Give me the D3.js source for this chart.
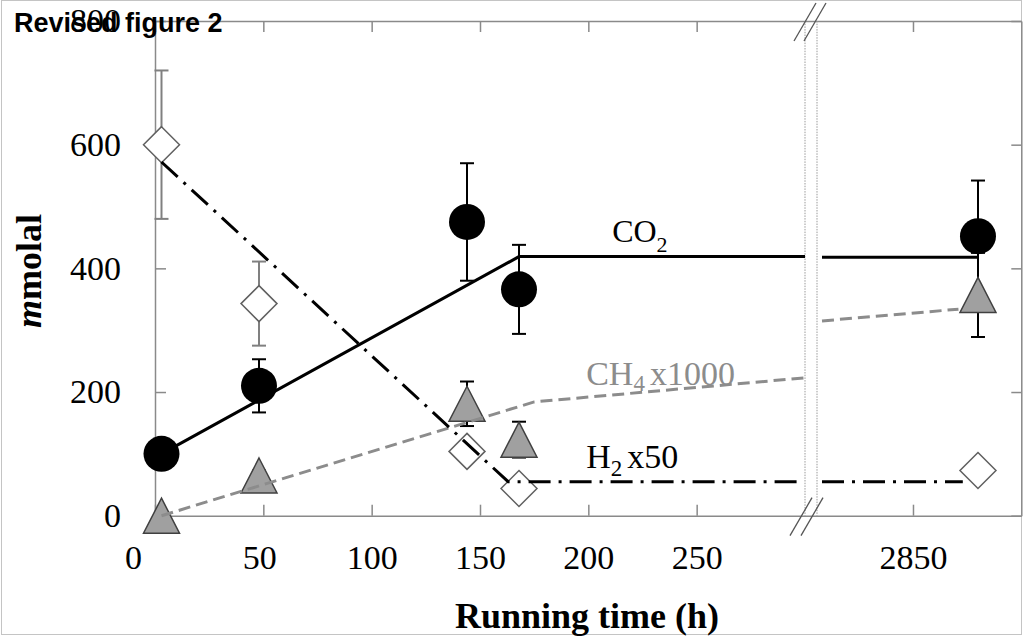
<!DOCTYPE html>
<meta charset="utf-8">
<style>
    body { margin: 0; background: #fff; }
    svg text { font-family: "Liberation Serif", "Times New Roman", serif; }
</style>

<!-- Load d3.js -->
<script src="https://d3js.org/d3.v7.min.js"></script>

<div id="my_dataviz"></div>

<script>
    // values (time in h, concentrations in mmolal)
    var times  = [3, 48, 144, 168, 2880];
    var co2    = [100, 210, 475, 366, 452];
    var co2Err = [12, 43, 95, 72, 90];
    var ch4    = [0, 65, 181, 123, 357];     // CH4 x1000
    var ch4Err = [6, 8, 36, 29, 68];
    var h2     = [600, 343, 104, 44, 73];    // H2 x50
    var h2Err  = [120, 68, 6, 6, 6];

    // trend lines, split in two pieces at the axis break
    var co2Fit = [[[3, 100], [168, 419], [300, 419]], [[2808, 418], [2880, 418]]];
    var ch4Fit = [[[3, 0], [175, 184], [300, 223]], [[2808, 315], [2871, 334]]];
    var h2Fit  = [[[3, 572], [163, 55], [297, 55]], [[2808, 55], [2873, 55]]];

    var xTicks = [0, 50, 100, 150, 200, 250, 2850];
    var yTicks = [0, 200, 400, 600, 800];

    var W = 1023, H = 636;
    var axisGrey = "#8a8a8a";

    var svg = d3.select("#my_dataviz")
        .append("svg")
        .attr("width", W)
        .attr("height", H);

    // outer frame
    svg.append("rect")
        .attr("x", 1.5).attr("y", 0.5)
        .attr("width", 1020).attr("height", 634)
        .attr("fill", "none")
        .attr("stroke", "#c4c4c4");

    // broken x axis: 0-300 h, then 2808-2900 h
    var x = d3.scaleLinear()
        .domain([0, 300, 2808, 2900])
        .range([155, 805, 822, 1021.3]);
    var y = d3.scaleLinear()
        .domain([0, 800])
        .range([515.7, 21]);

    function styleAxis(g) {
        g.attr("font-family", "Liberation Serif, Times New Roman, serif")
            .attr("font-size", 34);
        g.selectAll("path, line").attr("stroke", axisGrey).attr("stroke-width", 1.5);
        g.selectAll("text").attr("fill", "#000");
    }

    svg.append("g")
        .attr("transform", "translate(0," + y(0) + ")")
        .call(d3.axisBottom(x).tickValues(xTicks).tickFormat(d3.format("d"))
            .tickSizeInner(-11).tickSizeOuter(0).tickPadding(29))
        .call(styleAxis)
        .selectAll("text")
        .attr("dx", function(d) { return d === 0 ? -22 : (d === 50 ? -4 : 0); });

    svg.append("g")
        .attr("transform", "translate(0," + y(800) + ")")
        .call(d3.axisTop(x).tickValues(xTicks).tickSizeInner(-11).tickSizeOuter(0).tickFormat(""))
        .call(styleAxis);

    svg.append("g")
        .attr("transform", "translate(" + x(0) + ",0)")
        .call(d3.axisLeft(y).tickValues(yTicks).tickSizeInner(-11).tickSizeOuter(0).tickPadding(34))
        .call(styleAxis);

    svg.append("g")
        .attr("transform", "translate(" + x(2900) + ",0)")
        .call(d3.axisRight(y).tickValues(yTicks).tickSizeInner(-10).tickSizeOuter(0).tickFormat(""))
        .call(styleAxis);

    // break marks
    var bx1 = x(300), bx2 = x(2808) - 5;
    [bx1, bx2].forEach(function(bx) {
        svg.append("line")
            .attr("x1", bx).attr("x2", bx)
            .attr("y1", y(800)).attr("y2", y(0))
            .attr("stroke", "#9a9a9a")
            .attr("stroke-width", 1)
            .attr("stroke-dasharray", "1.5,1.2");
    });
    [[y(0), -12], [y(0), -1], [y(800), -8], [y(800), 2]].forEach(function(s) {
        var cx = bx1 + 8 + s[1];
        svg.append("line")
            .attr("x1", cx - 11).attr("y1", s[0] + 20)
            .attr("x2", cx + 11).attr("y2", s[0] - 18)
            .attr("stroke", "#555")
            .attr("stroke-width", 1.3);
    });

    var rows = times.map(function(t, i) {
        return { t: t, co2: co2[i], co2e: co2Err[i], ch4: ch4[i], ch4e: ch4Err[i], h2: h2[i], h2e: h2Err[i] };
    });

    // error bars
    function errorBars(key, ekey, colour) {
        var g = svg.append("g").attr("stroke", colour).attr("stroke-width", 2);
        rows.forEach(function(d) {
            var cx = x(d.t), lo = y(d[key] - d[ekey]), hi = y(d[key] + d[ekey]);
            g.append("line").attr("x1", cx).attr("x2", cx).attr("y1", lo).attr("y2", hi);
            g.append("line").attr("x1", cx - 7).attr("x2", cx + 7).attr("y1", lo).attr("y2", lo);
            g.append("line").attr("x1", cx - 7).attr("x2", cx + 7).attr("y1", hi).attr("y2", hi);
        });
    }
    errorBars("h2", "h2e", "#808080");
    errorBars("co2", "co2e", "#000");
    errorBars("ch4", "ch4e", "#000");

    // markers
    svg.selectAll("circle.co2")
        .data(rows)
        .enter()
        .append("circle")
        .attr("cx", function(d) { return x(d.t); })
        .attr("cy", function(d) { return y(d.co2); })
        .attr("r", 18)
        .attr("fill", "#000");

    svg.selectAll("path.ch4")
        .data(rows)
        .enter()
        .append("path")
        .attr("d", "M0,-17.5L18,17.5L-18,17.5Z")
        .attr("transform", function(d) { return "translate(" + x(d.t) + "," + y(d.ch4) + ")"; })
        .attr("fill", "#a0a0a0")
        .attr("stroke", "#404040")
        .attr("stroke-width", 1.5);

    svg.selectAll("path.h2")
        .data(rows)
        .enter()
        .append("path")
        .attr("d", "M0,-18L18,0L0,18L-18,0Z")
        .attr("transform", function(d) { return "translate(" + x(d.t) + "," + y(d.h2) + ")"; })
        .attr("fill", "#fff")
        .attr("stroke", "#606060")
        .attr("stroke-width", 1.5);

    // trend lines on top of the markers
    var line = d3.line()
        .x(function(d) { return x(d[0]); })
        .y(function(d) { return y(d[1]); });

    function fit(pieces, colour, dash) {
        pieces.forEach(function(p) {
            svg.append("path")
                .attr("d", line(p))
                .attr("fill", "none")
                .attr("stroke", colour)
                .attr("stroke-width", 3)
                .attr("stroke-dasharray", dash);
        });
    }
    fit(co2Fit, "#000", null);
    fit(ch4Fit, "#8c8c8c", "12,6");
    fit(h2Fit, "#000", "22,8,3,8");

    // series labels
    var lab1 = svg.append("text")
        .attr("x", x(211)).attr("y", y(443))
        .attr("font-size", 32);
    lab1.append("tspan").text("CO");
    lab1.append("tspan").attr("font-size", 22).attr("dy", 10).text("2");

    var lab2 = svg.append("text")
        .attr("x", x(199)).attr("y", y(211))
        .attr("font-size", 34)
        .attr("fill", "#8c8c8c");
    lab2.append("tspan").text("CH");
    lab2.append("tspan").attr("font-size", 23).attr("dy", 6).text("4");
    lab2.append("tspan").attr("dy", -6).attr("dx", 5).text("x1000");

    var lab3 = svg.append("text")
        .attr("x", x(199)).attr("y", y(77))
        .attr("font-size", 34);
    lab3.append("tspan").text("H");
    lab3.append("tspan").attr("font-size", 23).attr("dy", 8).text("2");
    lab3.append("tspan").attr("dy", -8).attr("dx", 5).text("x50");

    // axis titles
    var yl = svg.append("text")
        .attr("transform", "translate(41,271) rotate(-90)")
        .attr("text-anchor", "middle")
        .attr("font-size", 36)
        .attr("font-weight", "bold");
    yl.append("tspan").attr("font-style", "italic").text("m");
    yl.append("tspan").text("molal");

    svg.append("text")
        .attr("x", 587).attr("y", 628)
        .attr("text-anchor", "middle")
        .attr("font-size", 36)
        .attr("font-weight", "bold")
        .text("Running time (h)");

    // figure caption, drawn over the top tick label as in the original
    svg.append("text")
        .attr("x", 14).attr("y", 32)
        .attr("font-size", 27)
        .attr("font-weight", "bold")
        .style("font-family", "'Liberation Sans', Arial, sans-serif")
        .text("Revised figure 2");
</script>
